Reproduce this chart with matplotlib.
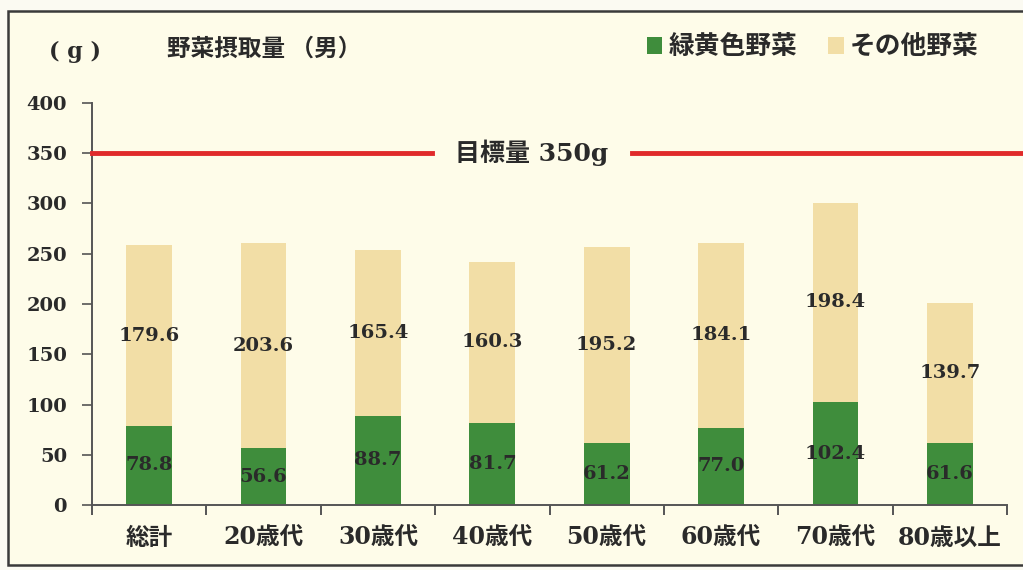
import matplotlib
matplotlib.use("Agg")
import matplotlib.pyplot as plt
from matplotlib.lines import Line2D
from matplotlib.patches import Rectangle
import matplotlib.transforms as mtransforms

# Data: vegetable intake (men), grams per day
categories = ["総計", "20歳代", "30歳代", "40歳代", "50歳代", "60歳代", "70歳代", "80歳以上"]
green_yellow = [78.8, 56.6, 88.7, 81.7, 61.2, 77.0, 102.4, 61.6]
other_veg = [179.6, 203.6, 165.4, 160.3, 195.2, 184.1, 198.4, 139.7]
yticks = [0, 50, 100, 150, 200, 250, 300, 350, 400]
target = 350

GREEN = "#3f8d3c"
TAN = "#f2dea6"
BG = "#fefce9"
TXT = "#2a2a2a"
RED = "#e02a2a"
NUM = "DejaVu Serif"
CJK = ["Noto Sans CJK JP", "DejaVu Sans"]
MIX = ["DejaVu Serif", "Noto Sans CJK JP"]   # serif digits, CJK fallback

fig = plt.figure(figsize=(10.23, 5.70), dpi=100, facecolor="#fbfaf2")

# Framed panel behind everything
panel = Rectangle((8 / 1023, 1 - 565 / 570), 1.0, (565 - 11) / 570,
                  transform=fig.transFigure, facecolor=BG, edgecolor="#3a3a3a",
                  linewidth=1.8, zorder=-10)
fig.patches.append(panel)

ax = fig.add_axes([92 / 1023, 1 - 505 / 570, 915 / 1023, 402 / 570])
ax.set_facecolor("none")

x = list(range(len(categories)))
w = 0.40
ax.bar(x, green_yellow, width=w, color=GREEN, zorder=2)
ax.bar(x, other_veg, width=w, bottom=green_yellow, color=TAN, zorder=2)

for xi, g, o in zip(x, green_yellow, other_veg):
    ax.text(xi, g / 2, f"{g:.1f}", ha="center", va="center", fontsize=14,
            family=NUM, fontweight="bold", color=TXT, zorder=3)
    ax.text(xi, g + o / 2, f"{o:.1f}", ha="center", va="center", fontsize=14,
            family=NUM, fontweight="bold", color=TXT, zorder=3)

ax.set_xlim(-0.5, len(categories) - 0.5)
ax.set_ylim(0, 400)
ax.set_yticks(yticks)
ax.set_yticklabels([str(v) for v in yticks], family=NUM, fontweight="bold",
                   fontsize=14, color=TXT)
ax.tick_params(axis="y", length=7, width=1.2, color="#555555", pad=11)

ax.set_xticks(x)
ax.set_xticklabels(categories, family=MIX, fontweight="bold", fontsize=17, color=TXT)
ax.set_xticks([i - 0.5 for i in range(len(categories) + 1)], minor=True)
ax.tick_params(axis="x", which="major", length=0, pad=15)
ax.tick_params(axis="x", which="minor", length=7, width=1.4, color="#555555",
               direction="out")

for side in ("top", "right"):
    ax.spines[side].set_visible(False)
for side in ("left", "bottom"):
    ax.spines[side].set_color("#555555")
    ax.spines[side].set_linewidth(1.4)

# Target line with a centred label
tr = mtransforms.blended_transform_factory(ax.transAxes, ax.transData)
gap_l, gap_r = (432 - 92) / 915, (632 - 92) / 915
for x0, x1 in ((0, gap_l), (gap_r, (1023 - 92) / 915)):
    ax.add_line(Line2D([x0, x1], [target, target], transform=tr, color=RED,
                       linewidth=3.5, clip_on=False, zorder=4))
ax.text((gap_l + gap_r) / 2, target, f"目標量 {target}g", transform=tr,
        ha="center", va="center", fontsize=18, fontweight="bold",
        family=MIX, color=TXT, zorder=4)

# Unit and title
fig.text(75 / 1023, 1 - 52 / 570, "( g )", family=NUM, fontweight="bold",
         fontsize=16, color=TXT, ha="center", va="center")
fig.text(167 / 1023, 1 - 49 / 570, "野菜摂取量 （男）", family=CJK,
         fontweight="bold", fontsize=17, color=TXT, ha="left", va="center")

# Legend
handles = [Rectangle((0, 0), 1, 1, facecolor=GREEN),
           Rectangle((0, 0), 1, 1, facecolor=TAN)]
fig.legend(handles, ["緑黄色野菜", "その他野菜"], loc="center right",
           bbox_to_anchor=(1002 / 1023, 1 - 47 / 570), ncol=2, frameon=False,
           prop={"family": CJK, "weight": "bold", "size": 18.5},
           handlelength=0.6, handleheight=0.6, handletextpad=0.25,
           columnspacing=1.2, labelcolor=TXT)

fig.savefig("out.png", dpi=100, facecolor=fig.get_facecolor())
